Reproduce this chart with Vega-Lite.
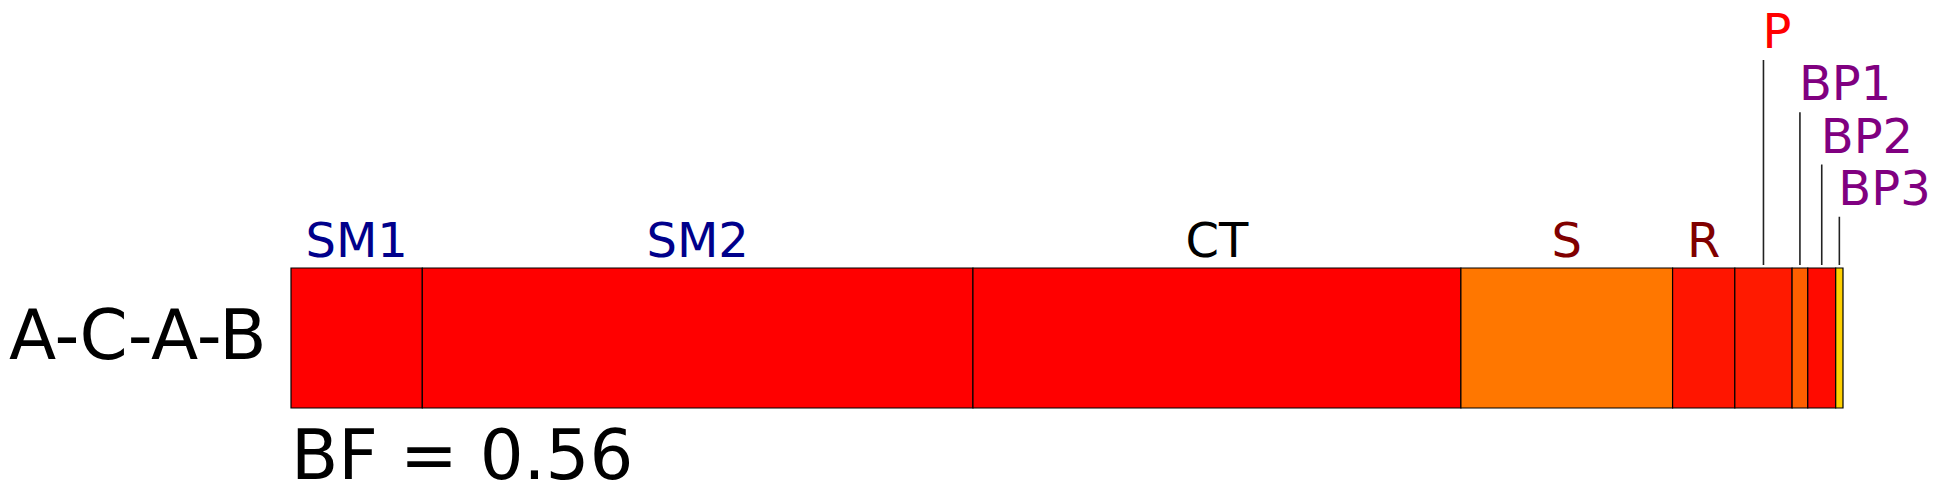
{
  "$schema": "https://vega.github.io/schema/vega-lite/v6.json",
  "width": 1552,
  "height": 140,
  "autosize": {"type": "none"},
  "padding": {"left": 291, "top": 268, "right": 99, "bottom": 94},
  "background": "white",
  "config": {"view": {"stroke": null}, "font": "DejaVu Sans"},
  "title": {
    "text": "BF = 0.56",
    "orient": "bottom",
    "anchor": "start",
    "frame": "group",
    "font": "DejaVu Sans",
    "fontSize": 69,
    "fontWeight": "normal",
    "color": "black",
    "baseline": "alphabetic",
    "offset": 70
  },
  "data": {
    "values": [
      {"model": "A-C-A-B", "segment": "SM1", "share": 8.46, "kind": "main"},
      {"model": "A-C-A-B", "segment": "SM2", "share": 35.48, "kind": "main"},
      {"model": "A-C-A-B", "segment": "CT", "share": 31.44, "kind": "main"},
      {"model": "A-C-A-B", "segment": "S", "share": 13.64, "kind": "main"},
      {"model": "A-C-A-B", "segment": "R", "share": 4.01, "kind": "main"},
      {"model": "A-C-A-B", "segment": "P", "share": 3.69, "kind": "callout"},
      {"model": "A-C-A-B", "segment": "BP1", "share": 1.01, "kind": "callout"},
      {"model": "A-C-A-B", "segment": "BP2", "share": 1.80, "kind": "callout"},
      {"model": "A-C-A-B", "segment": "BP3", "share": 0.47, "kind": "callout"}
    ]
  },
  "transform": [
    {"stack": "share", "groupby": ["model"], "as": ["x0", "x1"]},
    {"calculate": "(datum.x0 + datum.x1) / 2", "as": "mid"}
  ],
  "resolve": {
    "scale": {"y": "independent", "color": "independent"},
    "axis": {"y": "independent"}
  },
  "layer": [
    {
      "mark": {"type": "bar", "stroke": "black", "strokeWidth": 1.2, "opacity": 1},
      "encoding": {
        "x": {"field": "x0", "type": "quantitative", "scale": {"domain": [0, 100], "nice": false, "zero": false}, "axis": null},
        "x2": {"field": "x1"},
        "y": {
          "field": "model",
          "type": "nominal",
          "title": null,
          "scale": {"paddingInner": 0, "paddingOuter": 0},
          "axis": {
            "labelFontSize": 69,
            "labelFont": "DejaVu Sans",
            "labelColor": "black",
            "ticks": false,
            "tickSize": 0,
            "domain": false,
            "grid": false,
            "labelPadding": 25,
            "labelLimit": 0
          }
        },
        "color": {
          "field": "segment",
          "type": "nominal",
          "legend": null,
          "scale": {
            "domain": ["SM1", "SM2", "CT", "S", "R", "P", "BP1", "BP2", "BP3"],
            "range": ["#FF0000", "#FF0000", "#FF0000", "#FF7700", "#FF1500", "#FF1A00", "#FF5F00", "#FF0A00", "#FFD000"]
          }
        }
      }
    },
    {
      "transform": [{"filter": "datum.kind === 'main'"}],
      "mark": {"type": "text", "align": "center", "baseline": "alphabetic", "fontSize": 48, "font": "DejaVu Sans"},
      "encoding": {
        "x": {"field": "mid", "type": "quantitative", "scale": {"domain": [0, 100], "nice": false, "zero": false}, "axis": null},
        "y": {"datum": 0, "type": "quantitative", "scale": {"domain": [0, 4], "range": [-11, -220], "nice": false, "zero": false}, "axis": null},
        "text": {"field": "segment"},
        "color": {
          "field": "segment",
          "type": "nominal",
          "legend": null,
          "scale": {
            "domain": ["SM1", "SM2", "CT", "S", "R"],
            "range": ["#00008B", "#00008B", "#000000", "#800000", "#800000"]
          }
        }
      }
    },
    {
      "transform": [
        {"filter": "datum.kind === 'callout'"},
        {"window": [{"op": "row_number", "as": "tier"}], "sort": [{"field": "x0", "order": "descending"}]}
      ],
      "mark": {"type": "rule", "color": "#222222", "strokeWidth": 1.6, "yOffset": 12, "y2Offset": 8},
      "encoding": {
        "x": {"field": "mid", "type": "quantitative", "scale": {"domain": [0, 100], "nice": false, "zero": false}, "axis": null},
        "y": {"field": "tier", "type": "quantitative", "scale": {"domain": [0, 4], "range": [-11, -220], "nice": false, "zero": false}, "axis": null},
        "y2": {"datum": 0}
      }
    },
    {
      "transform": [
        {"filter": "datum.kind === 'callout'"},
        {"window": [{"op": "row_number", "as": "tier"}], "sort": [{"field": "x0", "order": "descending"}]}
      ],
      "mark": {"type": "text", "align": "left", "baseline": "alphabetic", "fontSize": 48, "font": "DejaVu Sans", "dx": -1},
      "encoding": {
        "x": {"field": "mid", "type": "quantitative", "scale": {"domain": [0, 100], "nice": false, "zero": false}, "axis": null},
        "y": {"field": "tier", "type": "quantitative", "scale": {"domain": [0, 4], "range": [-11, -220], "nice": false, "zero": false}, "axis": null},
        "text": {"field": "segment"},
        "color": {
          "field": "segment",
          "type": "nominal",
          "legend": null,
          "scale": {
            "domain": ["P", "BP1", "BP2", "BP3"],
            "range": ["#FF0000", "#800080", "#800080", "#800080"]
          }
        }
      }
    }
  ]
}
